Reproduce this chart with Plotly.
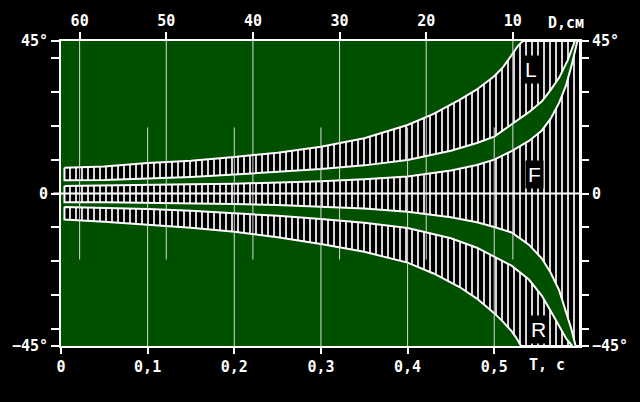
import plotly.graph_objects as go

# ---------------- data ----------------
T_TICKS = [0, 0.1, 0.2, 0.3, 0.4, 0.5]
T_LABELS = ["0", "0,1", "0,2", "0,3", "0,4", "0,5"]
D_TICKS = [60, 50, 40, 30, 20, 10]
D_LABELS = ["60", "50", "40", "30", "20", "10"]
ANG_TICKS = [45, 40, 30, 20, 10, 0, -10, -20, -30, -40, -45]
ANG_LABELS = ["45°", "", "", "", "", "0", "", "", "", "", "−45°"]

T_MAX = 0.599          # right end of the time axis (s)
D_AT_T0 = 62.15        # distance (cm) corresponding to T = 0

# L band (upper)
L_OUT_T = [0.004, 0.05, 0.10, 0.15, 0.20, 0.25, 0.30, 0.35, 0.40, 0.43, 0.46, 0.48, 0.50, 0.51, 0.52, 0.527, 0.533]
L_OUT_D = [7.6, 8.0, 9.0, 9.7, 10.8, 12.0, 13.8, 16.3, 20.2, 23.5, 27.6, 30.7, 34.6, 37.2, 40.8, 43.4, 45]
L_IN_T = [0.004, 0.05, 0.10, 0.15, 0.20, 0.25, 0.30, 0.35, 0.40, 0.45, 0.48, 0.50, 0.52, 0.54, 0.555, 0.565, 0.575, 0.585, 0.593]
L_IN_D = [3.9, 4.0, 4.4, 4.9, 5.6, 6.3, 7.2, 8.3, 9.9, 12.6, 14.9, 16.8, 20.3, 24.0, 27.2, 30.5, 34.2, 39.4, 45]

# F band (centre)
F_UP_T = [0.004, 0.05, 0.10, 0.15, 0.20, 0.25, 0.30, 0.35, 0.40, 0.45, 0.48, 0.50, 0.52, 0.54, 0.555, 0.565, 0.575, 0.583, 0.590, 0.596]
F_UP_D = [2.2, 2.3, 2.5, 2.7, 2.9, 3.2, 3.6, 4.2, 5.0, 6.8, 8.4, 10.0, 12.5, 15.5, 18.6, 22.0, 26.8, 32.0, 38.5, 45]
F_LO_T = [0.004, 0.05, 0.10, 0.15, 0.20, 0.25, 0.30, 0.35, 0.40, 0.45, 0.48, 0.50, 0.52, 0.54, 0.555, 0.565, 0.575, 0.583, 0.589, 0.594]
F_LO_D = [-2.6, -2.6, -2.7, -2.9, -3.1, -3.4, -3.8, -4.4, -5.4, -7.0, -8.5, -9.9, -11.5, -15.1, -19.2, -23.3, -28.6, -34.8, -40.0, -45]

# R band (lower)
R_IN_T = [0.004, 0.05, 0.10, 0.15, 0.20, 0.25, 0.30, 0.35, 0.40, 0.45, 0.48, 0.50, 0.52, 0.54, 0.555, 0.565, 0.575, 0.583, 0.590]
R_IN_D = [-4.0, -4.2, -4.6, -5.1, -5.8, -6.6, -7.5, -8.6, -10.2, -13.2, -16.0, -18.6, -21.3, -25.4, -30.2, -34.6, -39.2, -42.8, -45]
R_OUT_T = [0.004, 0.05, 0.10, 0.15, 0.20, 0.25, 0.30, 0.35, 0.40, 0.43, 0.46, 0.48, 0.50, 0.51, 0.52, 0.526, 0.531]
R_OUT_D = [-7.7, -8.3, -9.2, -10.1, -11.3, -12.9, -14.9, -17.2, -20.4, -23.6, -27.6, -31.0, -35.3, -37.8, -40.6, -42.8, -45]

# partial grid lines
D_GRID_SPAN = [45, -19.5]
T_GRID_SPAN = [19.5, -45]
T_GRID = [0.1, 0.2, 0.3, 0.4, 0.5]

BAND_LABELS = ["L", "F", "R"]
BAND_LABEL_T = [0.543, 0.547, 0.551]
BAND_LABEL_DEG = [36.6, 5.7, -40.0]

# ---------------- styling ----------------
GREEN = "#005000"
WHITE = "#ffffff"
GRID = "#d8d8d8"
FONT = "DejaVu Sans Mono"

fig = go.Figure()

# grid lines (under the bands)
gx, gy = [], []
for d in D_TICKS:
    gx += [d, d, None]
    gy += [D_GRID_SPAN[0], D_GRID_SPAN[1], None]
fig.add_trace(go.Scatter(x=gx, y=gy, xaxis="x2", yaxis="y", mode="lines",
                         line=dict(color=GRID, width=1), hoverinfo="skip"))
tx, ty = [], []
for t in T_GRID:
    tx += [t, t, None]
    ty += [T_GRID_SPAN[0], T_GRID_SPAN[1], None]
fig.add_trace(go.Scatter(x=tx, y=ty, xaxis="x", yaxis="y2", mode="lines",
                         line=dict(color=GRID, width=1), hoverinfo="skip"))

pattern = dict(shape="|", size=6, solidity=0.33, fgcolor="#d8d8d8",
               bgcolor="#000000", fillmode="replace")


def band(xs, ys):
    xs = list(xs) + [xs[0]]
    ys = list(ys) + [ys[0]]
    fig.add_trace(go.Scatter(x=xs, y=ys, mode="lines", fill="toself",
                             fillpattern=pattern, fillcolor="#000000",
                             line=dict(color=WHITE, width=2), hoverinfo="skip"))


band(L_OUT_T + L_IN_T[::-1], L_OUT_D + L_IN_D[::-1])
band(F_UP_T + [T_MAX, T_MAX] + F_LO_T[::-1], F_UP_D + [45, -45] + F_LO_D[::-1])
band(R_IN_T + R_OUT_T[::-1], R_IN_D + R_OUT_D[::-1])

tick_font = dict(family=FONT, size=15, color=WHITE, weight="bold")
axis_common = dict(showline=True, linecolor=WHITE, linewidth=2, ticks="outside",
                   tickcolor=WHITE, tickwidth=2, showgrid=False, zeroline=False,
                   tickfont=tick_font, fixedrange=True)

fig.update_layout(
    width=640, height=402,
    margin=dict(l=58, r=60, t=40, b=56),
    paper_bgcolor="#000000", plot_bgcolor=GREEN,
    showlegend=False,
    xaxis=dict(range=[0, T_MAX], tickvals=T_TICKS, ticktext=T_LABELS, ticklen=6,
               **axis_common),
    xaxis2=dict(range=[D_AT_T0, D_AT_T0 - T_MAX * 100], overlaying="x", side="top",
                anchor="y", tickvals=D_TICKS, ticktext=D_LABELS, ticklen=7, **axis_common),
    yaxis=dict(range=[-45, 45], tickvals=ANG_TICKS, ticktext=ANG_LABELS, ticklen=8,
               **axis_common),
    yaxis2=dict(range=[-45, 45], overlaying="y", side="right", anchor="x",
                tickvals=ANG_TICKS, ticktext=ANG_LABELS, ticklen=7, **axis_common),
    shapes=[dict(type="line", xref="paper", x0=-0.015, x1=1.0, yref="y", y0=0, y1=0,
                 line=dict(color=WHITE, width=2), layer="above")],
)

for txt, t, a in zip(BAND_LABELS, BAND_LABEL_T, BAND_LABEL_DEG):
    fig.add_annotation(x=t, y=a, xref="x", yref="y", text=txt, showarrow=False,
                       font=dict(family="Liberation Sans", size=21, color=WHITE),
                       bgcolor="#000000", borderpad=2)

fig.add_annotation(x=0.561, y=-0.062, xref="x", yref="paper", text="T, с", showarrow=False,
                   font=tick_font, yanchor="middle")
fig.add_annotation(x=0.583, y=1.059, xref="x", yref="paper", text="D,см", showarrow=False,
                   font=tick_font, yanchor="middle")

fig.write_html("out.html", config={"displayModeBar": False},
               post_script="document.body.style.margin='0';")
